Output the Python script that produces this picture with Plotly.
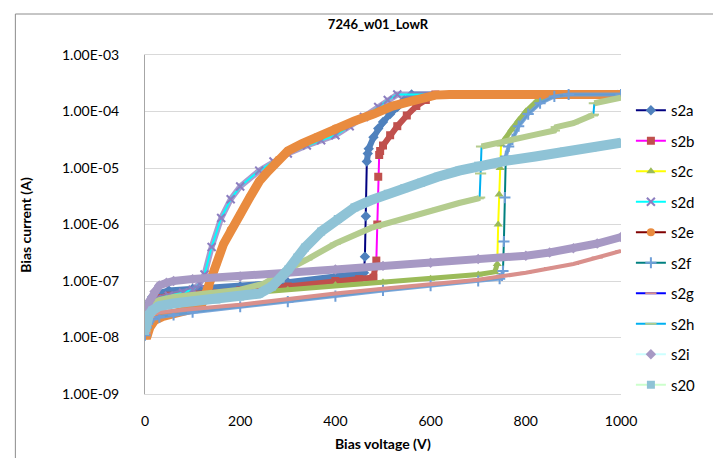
import plotly.graph_objects as go

# ---------------- data ----------------
names = ["s2a", "s2b", "s2c", "s2d", "s2e", "s2f", "s2g", "s2h", "s2i", "s20"]

s2a_v = [0, 3, 8, 15, 25, 50, 100, 200, 300, 400, 440, 460, 462, 464, 466, 468, 470, 480, 490, 500, 515, 530, 545, 560, 1000]
s2a_i = [1.3e-8, 2.5e-8, 4e-8, 5.2e-8, 6e-8, 6.8e-8, 7.3e-8, 8e-8, 9.5e-8, 1.2e-7, 1.3e-7, 1.4e-7, 2.7e-7, 1.4e-6, 1.3e-5, 1.8e-5, 2.2e-5, 3.5e-5, 5e-5, 6.5e-5, 9e-5, 1.2e-4, 1.6e-4, 2e-4, 2e-4]

s2b_v = [0, 3, 8, 15, 25, 50, 100, 200, 300, 400, 450, 480, 486, 488, 490, 492, 494, 500, 515, 530, 550, 570, 590, 610, 1000]
s2b_i = [1.2e-8, 2.2e-8, 3.5e-8, 4.5e-8, 5e-8, 5.5e-8, 6e-8, 6.8e-8, 8e-8, 1e-7, 1.08e-7, 1.15e-7, 2.3e-7, 1e-6, 7e-6, 1.7e-5, 2e-5, 2.5e-5, 3.8e-5, 5.5e-5, 8.5e-5, 1.25e-4, 1.6e-4, 2e-4, 2e-4]

s2c_v = [0, 3, 8, 15, 25, 50, 100, 200, 300, 400, 500, 600, 700, 735, 740, 742, 744, 746, 748, 755, 770, 785, 800, 820, 845, 870, 1000]
s2c_i = [1.2e-8, 2e-8, 3e-8, 3.8e-8, 4.3e-8, 4.8e-8, 5.3e-8, 6e-8, 7e-8, 8.5e-8, 9.5e-8, 1.1e-7, 1.3e-7, 1.45e-7, 2e-7, 1e-6, 3.4e-6, 1e-5, 2.6e-5, 3.2e-5, 4.8e-5, 7e-5, 1e-4, 1.45e-4, 1.85e-4, 2e-4, 2e-4]

s2d_v = [0, 3, 8, 15, 25, 50, 80, 100, 115, 125, 140, 160, 180, 200, 240, 270, 300, 340, 370, 400, 430, 460, 490, 510, 530, 1000]
s2d_i = [1.3e-8, 2.2e-8, 3.3e-8, 4.2e-8, 4.8e-8, 5.5e-8, 6.2e-8, 7e-8, 9e-8, 1.3e-7, 4e-7, 1.3e-6, 2.8e-6, 4.7e-6, 9e-6, 1.3e-5, 1.8e-5, 2.5e-5, 3.1e-5, 3.8e-5, 5.5e-5, 8e-5, 1.2e-4, 1.6e-4, 2e-4, 2e-4]

s2e_v = [0, 5, 10, 20, 40, 70, 100, 120, 135, 150, 165, 180, 200, 220, 240, 260, 280, 300, 330, 360, 400, 440, 480, 520, 570, 610, 640, 1000]
s2e_i = [1.1e-8, 1.1e-8, 1.5e-8, 2e-8, 2.4e-8, 2.8e-8, 3.2e-8, 4e-8, 8e-8, 2e-7, 4.5e-7, 8e-7, 1.5e-6, 3e-6, 5.8e-6, 9e-6, 1.4e-5, 2e-5, 2.7e-5, 3.5e-5, 5e-5, 6.8e-5, 9e-5, 1.25e-4, 1.6e-4, 1.95e-4, 2e-4, 2e-4]

s2f_v = [0, 3, 8, 15, 30, 60, 100, 200, 300, 400, 500, 600, 700, 745, 750, 752, 754, 756, 758, 764, 772, 785, 805, 830, 860, 890, 1000]
s2f_i = [1.1e-8, 1.5e-8, 1.9e-8, 2.1e-8, 2.3e-8, 2.5e-8, 2.8e-8, 3.5e-8, 4.3e-8, 5.4e-8, 6.8e-8, 8.3e-8, 1e-7, 1.1e-7, 1.25e-7, 1.5e-7, 5e-7, 3e-6, 1.6e-5, 2.4e-5, 3.2e-5, 5.5e-5, 9e-5, 1.4e-4, 1.85e-4, 2e-4, 2e-4]

s2g_v = [0, 3, 8, 15, 30, 60, 100, 200, 300, 400, 500, 600, 700, 800, 850, 900, 950, 1000]
s2g_i = [1.2e-8, 1.7e-8, 2.3e-8, 2.6e-8, 2.8e-8, 3e-8, 3.2e-8, 3.8e-8, 4.8e-8, 6e-8, 7.3e-8, 8.7e-8, 1.05e-7, 1.4e-7, 1.7e-7, 2e-7, 2.6e-7, 3.4e-7]

s2h_v = [0, 3, 8, 15, 30, 60, 100, 150, 200, 250, 280, 300, 340, 400, 475, 545, 615, 660, 700, 703, 705, 707, 740, 780, 820, 860, 864, 900, 940, 942, 944, 970, 1000]
s2h_i = [1.3e-8, 2.3e-8, 3.3e-8, 4e-8, 4.6e-8, 5.2e-8, 5.6e-8, 6.2e-8, 7e-8, 9e-8, 1.3e-7, 1.6e-7, 2.4e-7, 4.6e-7, 8.7e-7, 1.3e-6, 1.9e-6, 2.4e-6, 2.9e-6, 3e-6, 8e-6, 2.4e-5, 2.8e-5, 3.3e-5, 3.9e-5, 4.6e-5, 5.3e-5, 6.2e-5, 8.5e-5, 8.8e-5, 1.4e-4, 1.55e-4, 1.75e-4]

s2i_v = [0, 2, 5, 10, 20, 30, 45, 60, 100, 200, 300, 400, 500, 600, 700, 800, 850, 900, 950, 1000]
s2i_i = [1.5e-8, 2.2e-8, 3.2e-8, 4.5e-8, 6.5e-8, 8.3e-8, 9.3e-8, 1e-7, 1.08e-7, 1.2e-7, 1.38e-7, 1.6e-7, 1.85e-7, 2.1e-7, 2.45e-7, 2.8e-7, 3.2e-7, 3.8e-7, 4.6e-7, 6e-7]

s20_v = [0, 3, 8, 15, 30, 60, 100, 150, 200, 240, 267, 285, 301, 320, 336, 370, 405, 440, 475, 510, 545, 580, 615, 660, 700, 760, 820, 880, 940, 1000]
s20_i = [1.3e-8, 1.8e-8, 2.5e-8, 3e-8, 3.6e-8, 4e-8, 4.3e-8, 4.7e-8, 5.3e-8, 6e-8, 8e-8, 1.1e-7, 1.6e-7, 2.6e-7, 3.9e-7, 7.5e-7, 1.25e-6, 2e-6, 2.7e-6, 3.5e-6, 4.4e-6, 5.5e-6, 7e-6, 9e-6, 1.1e-5, 1.35e-5, 1.6e-5, 1.95e-5, 2.3e-5, 2.8e-5]

y_tickvals = [1e-9, 1e-8, 1e-7, 1e-6, 1e-5, 1e-4, 1e-3]
y_ticktext = ["1.00E-09", "1.00E-08", "1.00E-07", "1.00E-06", "1.00E-05", "1.00E-04", "1.00E-03"]
x_tickvals = [0, 200, 400, 600, 800, 1000]

series_v = [s2a_v, s2b_v, s2c_v, s2d_v, s2e_v, s2f_v, s2g_v, s2h_v, s2i_v, s20_v]
series_i = [s2a_i, s2b_i, s2c_i, s2d_i, s2e_i, s2f_i, s2g_i, s2h_i, s2i_i, s20_i]

# ---------------- styles ----------------
line_colors = ["#000080", "#FF00FF", "#FFFF00", "#00FFFF", "#800000", "#008080", "#0000FF", "#00B0F0", "#CCFFFF", "#CCFFCC"]
marker_colors = ["#4F81BD", "#C0504D", "#9BBB59", "#8C7EC0", "#E98B3F", "#6F9FD8", "#D9908C", "#B4CC8E", "#A799C4", "#8FC3D6"]
symbols = ["diamond", "square", "triangle-up", "x-thin-open", "circle", "cross-thin-open", "line-ew-open", "line-ew-open", "diamond", "square"]
open_sym = [False, False, False, True, False, True, True, True, False, False]
band_w = [6, 6, 5, 6, 9, 4, 4, 6, 8, 10]
band_op = [1, 1, 1, 0.75, 1, 0.9, 1, 1, 1, 1]
line_on_top = [False, False, False, True, False, False, False, False, False, False]

FONT = "Lato, Carlito, 'Liberation Sans', sans-serif"


def band_segments(v, i):
    """Split a series where it jumps vertically (breakdown steps)."""
    bv, bi = [v[0]], [i[0]]
    for k in range(1, len(v)):
        dv = v[k] - v[k - 1]
        r = i[k] / i[k - 1]
        if dv <= 2.5 and (r >= 1.55 or r <= 1 / 1.55):
            bv.append(None)
            bi.append(None)
        bv.append(v[k])
        bi.append(i[k])
    return bv, bi


fig = go.Figure()
for n, v, i, lc, mc, sym, op, bw, bo, lot in zip(names, series_v, series_i, line_colors, marker_colors,
                                                symbols, open_sym, band_w, band_op, line_on_top):
    marker = dict(symbol=sym, size=8, color=mc, line=dict(color=mc, width=2 if op else 0))
    main = go.Scatter(x=v, y=i, name=n, legendgroup=n, mode="lines+markers",
                      line=dict(color=lc, width=2), marker=marker)
    bv, bi = band_segments(v, i)
    band = go.Scatter(x=bv, y=bi, mode="lines", showlegend=False, legendgroup=n, hoverinfo="skip",
                      line=dict(color=mc, width=bw), opacity=bo, connectgaps=False)
    if lot:
        fig.add_trace(band)
        fig.add_trace(main)
    else:
        fig.add_trace(main)
        fig.add_trace(band)

W, H = 713, 458
L, R, T, B = 145, 626, 55, 394
pw, ph = R - L, B - T

fig.update_layout(
    width=W, height=H,
    margin=dict(l=L, r=W - R, t=T, b=H - B),
    paper_bgcolor="white", plot_bgcolor="white",
    font=dict(family=FONT, size=13, color="#000000"),
    title=dict(text="<b>7246_w01_LowR</b>", x=378 / W, xanchor="center", y=1 - 24 / H, yanchor="middle",
               font=dict(family=FONT, size=13, color="#000000")),
    showlegend=True,
    legend=dict(x=(636 - L) / pw, xanchor="left", y=(B - 94) / ph, yanchor="top",
                traceorder="grouped", tracegroupgap=8, font=dict(family=FONT, size=15),
                bgcolor="rgba(0,0,0,0)", itemwidth=30),
    xaxis=dict(range=[0, 1000], tickvals=x_tickvals, showgrid=False, zeroline=False,
               showline=True, linecolor="#D9D9D9", linewidth=1, mirror=True,
               ticks="", ticklabelstandoff=14, tickfont=dict(family=FONT, size=14)),
    yaxis=dict(type="log", range=[-9, -3], tickvals=y_tickvals, ticktext=y_ticktext,
               showgrid=True, gridcolor="#D9D9D9", gridwidth=1, zeroline=False,
               showline=True, linecolor="#A6A6A6", linewidth=1,
               ticks="", ticklabelstandoff=22, tickfont=dict(family=FONT, size=14)),
    annotations=[
        dict(text="<b>Bias voltage (V)</b>", xref="paper", yref="paper", x=0.5, y=(B - 443) / ph,
             xanchor="center", yanchor="middle", showarrow=False, font=dict(family=FONT, size=14)),
        dict(text="<b>Bias current (A)</b>", xref="paper", yref="paper", x=(24 - L) / pw, y=0.5,
             xanchor="center", yanchor="middle", textangle=-90, showarrow=False,
             font=dict(family=FONT, size=14)),
    ],
    shapes=[
        dict(type="rect", xref="paper", yref="paper", x0=(14 - L) / pw, x1=(760 - L) / pw,
             y0=(B - 520) / ph, y1=(B - 14) / ph, line=dict(color="#8C8C8C", width=1), layer="below"),
    ],
)

fig.write_html("out.html")
